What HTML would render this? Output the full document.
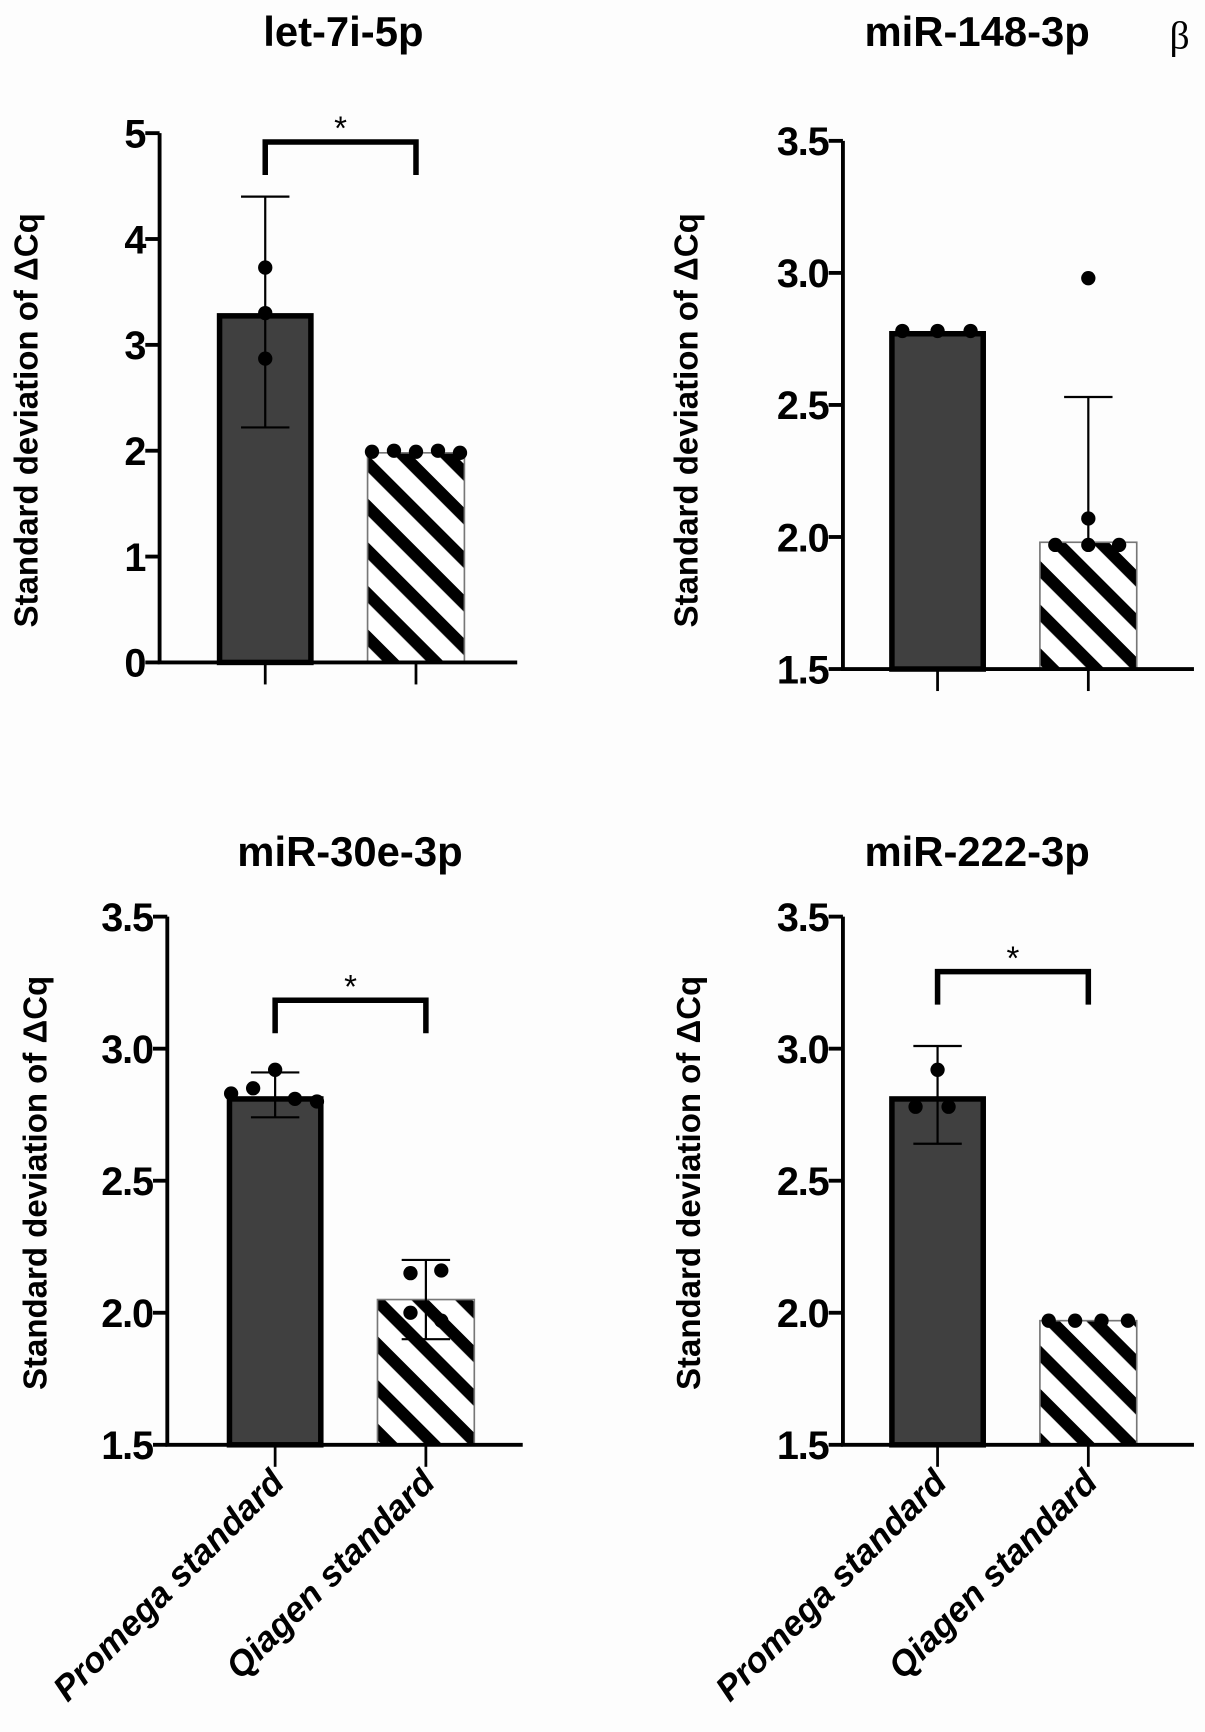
<!DOCTYPE html>
<html><head><meta charset="utf-8"><style>
html,body{margin:0;padding:0;background:#fdfdfd;}
svg{display:block;font-family:"Liberation Sans",Arial,sans-serif;}
</style></head><body>
<svg id="fig" width="1205" height="1732" viewBox="0 0 1095 1574" xmlns="http://www.w3.org/2000/svg">
<defs>
<pattern id="hatch" patternUnits="userSpaceOnUse" width="28" height="28" patternTransform="rotate(45)">
<rect width="28" height="28" fill="#fff"/>
<rect x="0" y="0" width="28" height="11" fill="#000"/>
</pattern>
</defs>
<rect width="1095" height="1574" fill="#fdfdfd"/>
<text x="1072" y="44" font-family="Liberation Serif, serif" font-size="36" text-anchor="middle">β</text>
</svg>
<script>
// Panel 1: let-7i-5p
const p1Values = [3.3, 1.98];
const p1ErrLow = [2.22, null];
const p1ErrHigh = [4.4, null];
const p1Points0 = [3.73, 3.3, 2.87];
const p1Points1 = [1.99, 2.0, 1.99, 2.0, 1.98];
const p1Ticks = [0, 1, 2, 3, 4, 5];
const p1TickLabels = ["0", "1", "2", "3", "4", "5"];
// Panel 2: miR-148-3p
const p2Values = [2.78, 1.98];
const p2ErrLow = [null, null];
const p2ErrHigh = [null, 2.53];
const p2Points0 = [2.78, 2.78, 2.78];
const p2Points1 = [1.97, 1.97, 2.98, 2.07, 1.97];
const pTicks = [1.5, 2.0, 2.5, 3.0, 3.5];
const pTickLabels = ["1.5", "2.0", "2.5", "3.0", "3.5"];
// Panel 3: miR-30e-3p
const p3Values = [2.82, 2.05];
const p3ErrLow = [2.74, 1.90];
const p3ErrHigh = [2.91, 2.20];
const p3Points0 = [2.83, 2.85, 2.92, 2.81, 2.80];
const p3Points1 = [2.15, 2.16, 2.0, 1.97];
// Panel 4: miR-222-3p
const p4Values = [2.82, 1.97];
const p4ErrLow = [2.64, null];
const p4ErrHigh = [3.01, null];
const p4Points0 = [2.78, 2.92, 2.78];
const p4Points1 = [1.97, 1.97, 1.97, 1.97];
const categories = ["Promega standard", "Qiagen standard"];

// horizontal jitter (pixel layout, not data)
const jit1 = [-40, -20, 0, 20, 40];
const jit2a = [-32, 0, 30];
const jit2b = [-30, 0, 0, 0, 28];
const jit3a = [-40, -20, 0, 18, 38];
const jit3b = [-14, 14, -14, 14];
const jit4a = [-20, 0, 10];
const jit4b = [-36, -12, 12, 36];
const jit0 = [0, 0, 0];

const NS = "http://www.w3.org/2000/svg";
const svg = document.getElementById("fig");
function mk(tag, attrs, parent) {
  const e = document.createElementNS(NS, tag);
  for (const k in attrs) e.setAttribute(k, attrs[k]);
  (parent || svg).appendChild(e);
  return e;
}

function panel(cfg) {
  const g = mk("g", {});
  
  
  const y = v => cfg.y0 - (v - cfg.vmin) * cfg.ppu;
  const yTop = y(cfg.vmax);
  const t = mk("text", {x: cfg.titleX, y: cfg.titleY, "font-size": 38, "font-weight": "bold", "text-anchor": "middle"}, g);
  t.textContent = cfg.title;
  
  
  const yl = mk("text", {x: 0, y: 0, "font-size": 30, "font-weight": "bold", "text-anchor": "middle", transform: `translate(${cfg.ylabX},${cfg.ylabY}) rotate(-90)`}, g);
  yl.textContent = "Standard deviation of ΔCq";
  
  
  cfg.values.forEach((v, i) => {
    const cx = cfg.xs[i];
    const bw = 88;
    let r;
    if (i === 0) {
      r = mk("rect", {x: cx - bw/2 + 2.5, y: y(v) + 2.5, width: bw - 5, height: cfg.y0 - y(v) - 2.5, fill: "#404040", stroke: "#000", "stroke-width": 5}, g);
      
    } else {
      r = mk("rect", {x: cx - bw/2, y: y(v), width: bw, height: cfg.y0 - y(v), fill: "url(#hatch)", stroke: "#777", "stroke-width": 1.5}, g);
      
    }
    
    const lo = cfg.errLow[i], hi = cfg.errHigh[i];
    if (hi !== null) {
      const bottom = lo !== null ? y(lo) : y(v);
      const eb = mk("path", {d: `M${cx},${bottom}V${y(hi)}M${cx-22},${y(hi)}H${cx+22}` + (lo !== null ? `M${cx-22},${y(lo)}H${cx+22}` : ""), stroke: "#000", "stroke-width": 2, fill: "none"}, g);
      
      
    }
    const pts = cfg.points[i];
    const jit = cfg.jit[i];
    pts.forEach((pv, j) => {
      const c = mk("circle", {cx: cx + (jit[j] || 0), cy: y(pv), r: 6.5, fill: "#000"}, g);
      
      
    });
  });
  const ax = mk("path", {d: `M${cfg.ax},${yTop}V${cfg.y0}H${cfg.axEnd}`, stroke: "#000", "stroke-width": 3.5, fill: "none"}, g);
  
  
  cfg.ticks.forEach((tv, i) => {
    const tk = mk("line", {x1: cfg.ax - 13, x2: cfg.ax, y1: y(tv), y2: y(tv), stroke: "#000", "stroke-width": 3.5}, g);
    
    
    const tl = mk("text", {x: cfg.ax - 13, y: y(tv) + 13, "font-size": 36, "font-weight": "bold", "text-anchor": "end", "letter-spacing": "-1"}, g);
    tl.textContent = cfg.tickLabels[i];
    
    
  });
  cfg.xs.forEach((cx, i) => {
    const tk = mk("line", {x1: cx, x2: cx, y1: cfg.y0, y2: cfg.y0 + 20, stroke: "#000", "stroke-width": 2.5}, g);
    
    
    if (cfg.xlabels) {
      const xl = mk("text", {x: 0, y: 0, "font-size": 32, "font-weight": "bold", "font-style": "italic", "text-anchor": "end", transform: `translate(${cx + 10},${cfg.y0 + 36}) rotate(-45)`}, g);
      xl.textContent = categories[i];
      
      
    }
  });
  if (cfg.bracketY) {
    const by = cfg.bracketY;
    const br = mk("path", {d: `M${cfg.xs[0]},${by + 30}V${by}H${cfg.xs[1]}V${by + 30}`, stroke: "#000", "stroke-width": 5, fill: "none"}, g);
    
    
    const st = mk("text", {x: (cfg.xs[0] + cfg.xs[1]) / 2, y: by - 2, "font-size": 30, "text-anchor": "middle"}, g);
    st.textContent = "*";
    
    
  }
}

panel({name: "panel-let-7i-5p", title: "let-7i-5p", titleX: 312, titleY: 42, ylabX: 34, ylabY: 382,
  values: p1Values, errLow: p1ErrLow, errHigh: p1ErrHigh, points: [p1Points0, p1Points1], jit: [jit0, jit1],
  ticks: p1Ticks, tickLabels: p1TickLabels, vmin: 0, vmax: 5, y0: 602, ppu: 96.2,
  ax: 145, axEnd: 470, xs: [241, 378], bracketY: 129});
panel({name: "panel-miR-148-3p", title: "miR-148-3p", titleX: 888, titleY: 42, ylabX: 634, ylabY: 382,
  values: p2Values, errLow: p2ErrLow, errHigh: p2ErrHigh, points: [p2Points0, p2Points1], jit: [jit2a, jit2b],
  ticks: pTicks, tickLabels: pTickLabels, vmin: 1.5, vmax: 3.5, y0: 608, ppu: 240,
  ax: 766, axEnd: 1085, xs: [852, 989]});
panel({name: "panel-miR-30e-3p", title: "miR-30e-3p", titleX: 318, titleY: 787, ylabX: 42, ylabY: 1075,
  values: p3Values, errLow: p3ErrLow, errHigh: p3ErrHigh, points: [p3Points0, p3Points1], jit: [jit3a, jit3b],
  ticks: pTicks, tickLabels: pTickLabels, vmin: 1.5, vmax: 3.5, y0: 1313, ppu: 240,
  ax: 152, axEnd: 475, xs: [250, 387], bracketY: 909, xlabels: true});
panel({name: "panel-miR-222-3p", title: "miR-222-3p", titleX: 888, titleY: 787, ylabX: 636, ylabY: 1075,
  values: p4Values, errLow: p4ErrLow, errHigh: p4ErrHigh, points: [p4Points0, p4Points1], jit: [jit4a, jit4b],
  ticks: pTicks, tickLabels: pTickLabels, vmin: 1.5, vmax: 3.5, y0: 1313, ppu: 240,
  ax: 766, axEnd: 1085, xs: [852, 989], bracketY: 883, xlabels: true});
</script>
</body></html>
